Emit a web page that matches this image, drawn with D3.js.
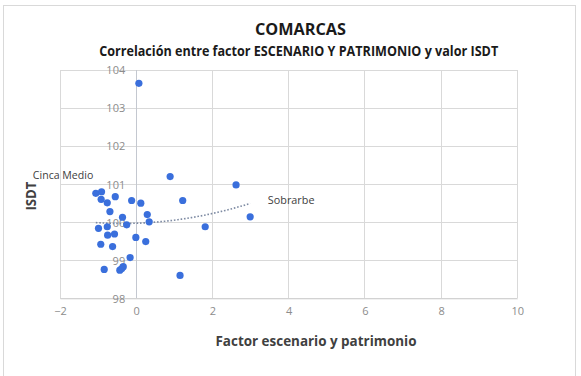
<!DOCTYPE html>
<html><head><meta charset="utf-8">
<script src="https://cdn.jsdelivr.net/npm/d3@7"></script>
<style>body{margin:0;background:#fff}svg{display:block}</style>
</head><body>
<svg id="c" width="581" height="376"></svg>
<script>
// ---- data ----
const xFactor = [0.07,0.89,2.62,1.22,2.99,1.81,1.15,-1.06,-0.91,-0.92,-0.76,-0.55,-0.12,0.12,-0.69,-0.36,0.29,0.34,-0.25,-0.99,-0.76,-0.75,-0.57,-0.01,0.25,-0.93,-0.62,-0.16,-0.84,-0.43,-0.34,-0.38];
const yISDT   = [103.65,101.2,100.98,100.57,100.14,99.88,98.6,100.76,100.8,100.6,100.51,100.67,100.57,100.5,100.28,100.13,100.2,100.01,99.93,99.84,99.88,99.66,99.69,99.6,99.49,99.42,99.36,99.07,98.76,98.74,98.83,98.78];
const pointLabels = [{i:7, text:"Cinca Medio"}, {i:4, text:"Sobrarbe"}];
const xTicks = [-2,0,2,4,6,8,10];
const yTicks = [98,99,100,101,102,103,104];
// polynomial trendline (order 2): y = a + b*(x - h)^2
const trendCoef = [99.967, 0.047, -0.36];
const trendRange = [-1.06, 3.0];
const title = "COMARCAS";
const subtitle = "Correlación entre factor ESCENARIO Y PATRIMONIO y valor ISDT";
const xTitle = "Factor escenario y patrimonio";
const yTitle = "ISDT";

// ---- drawing ----
const svg = d3.select("#c");
const font = "'Open Sans', 'Noto Sans', sans-serif";
const x = d3.scaleLinear().domain([-2,10]).range([60,517.3]);
const y = d3.scaleLinear().domain([98,104]).range([298.3,70]);

svg.append("rect").attr("x",3.5).attr("y",5.5).attr("width",572).attr("height",380)
  .attr("fill","#fff").attr("stroke","#d9d9d9");

// gridlines
const g = svg.append("g");
g.selectAll(".hg").data(yTicks).join("line")
  .attr("x1",x(-2)).attr("x2",x(10)).attr("y1",d=>y(d)).attr("y2",d=>y(d))
  .attr("stroke","#d9d9d9").attr("stroke-width",1).attr("shape-rendering","crispEdges");
g.selectAll(".vg").data(xTicks).join("line")
  .attr("y1",y(98)).attr("y2",y(104)).attr("x1",d=>x(d)).attr("x2",d=>x(d))
  .attr("stroke",d=>d===0?"#c4c8d0":"#d9d9d9").attr("stroke-width",1).attr("shape-rendering","crispEdges");

// axes with d3 (labels only)
const xAxis = d3.axisBottom(x).tickValues(xTicks).tickSize(0).tickPadding(0).tickFormat(d3.format("d"));
const xa = svg.append("g").attr("transform",`translate(0,${y(98)})`).call(xAxis);
xa.select(".domain").attr("stroke","#cfcfcf");
xa.selectAll("text").attr("y",16.5).attr("dy",0).attr("font-family",font).attr("font-size",11).attr("fill","#8c8c8c");

const yAxis = d3.axisLeft(y).tickValues(yTicks).tickSize(0).tickPadding(11).tickFormat(d3.format("d"));
const ya = svg.append("g").attr("transform",`translate(${x(0)},0)`).call(yAxis);
ya.select(".domain").remove();
ya.selectAll("text").attr("dy","0.35em").attr("font-family",font).attr("font-size",11).attr("fill","#8c8c8c");

// trendline
const tf = v => trendCoef[0] + trendCoef[1]*Math.pow(v - trendCoef[2],2);
const tx = d3.range(trendRange[0], trendRange[1]+0.0001, 0.05);
svg.append("path").datum(tx)
  .attr("d", d3.line().x(d=>x(d)).y(d=>y(tf(d))))
  .attr("fill","none").attr("stroke","#7e8ba3").attr("stroke-width",1.6).attr("stroke-dasharray","1.6,1.8");

// points
const pts = xFactor.map((v,i)=>({x:v,y:yISDT[i]}));
svg.append("g").selectAll("circle").data(pts).join("circle")
  .attr("cx",d=>x(d.x)).attr("cy",d=>y(d.y)).attr("r",3.6).attr("fill","#3a6fdc");

// data labels
const lbl = svg.append("g").attr("font-family",font).attr("font-size",11).attr("fill","#404040");
lbl.append("text").text(pointLabels[0].text)
  .attr("x", x(xFactor[pointLabels[0].i]) - 2.5).attr("y", y(yISDT[pointLabels[0].i]) - 14.5)
  .attr("text-anchor","end").attr("textLength",60.5).attr("lengthAdjust","spacingAndGlyphs");
lbl.append("text").text(pointLabels[1].text)
  .attr("x", x(xFactor[pointLabels[1].i]) + 17.7).attr("y", y(yISDT[pointLabels[1].i]) - 12.5)
  .attr("textLength",46.6).attr("lengthAdjust","spacingAndGlyphs");

// titles
svg.append("text").text(title).attr("x",300.5).attr("y",35).attr("text-anchor","middle")
  .attr("font-family",font).attr("font-weight","bold").attr("font-size",16).attr("fill","#1a1a1a")
  .attr("textLength",91).attr("lengthAdjust","spacingAndGlyphs");
svg.append("text").text(subtitle).attr("x",298.7).attr("y",55.5).attr("text-anchor","middle")
  .attr("font-family",font).attr("font-weight","bold").attr("font-size",13.5).attr("fill","#1a1a1a")
  .attr("textLength",399).attr("lengthAdjust","spacingAndGlyphs");
svg.append("text").text(xTitle).attr("x",316).attr("y",346).attr("text-anchor","middle")
  .attr("font-family",font).attr("font-weight","bold").attr("font-size",13.5).attr("fill","#404040")
  .attr("textLength",201).attr("lengthAdjust","spacingAndGlyphs");
svg.append("text").text(yTitle).attr("transform","translate(35.5,196) rotate(-90)").attr("text-anchor","middle")
  .attr("font-family",font).attr("font-weight","bold").attr("font-size",13.5).attr("fill","#404040")
  .attr("textLength",29).attr("lengthAdjust","spacingAndGlyphs");
</script>
</body></html>
